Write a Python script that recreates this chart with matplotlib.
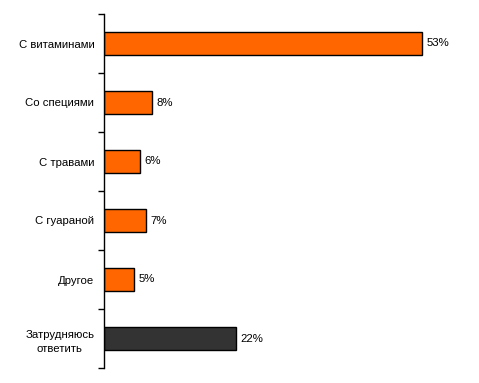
import matplotlib
matplotlib.use("Agg")
import matplotlib.pyplot as plt
import numpy as np

categories = ["С витаминами", "Со специями", "С травами", "С гуараной", "Другое", "Затрудняюсь\nответить"]
values = [53, 8, 6, 7, 5, 22]
colors = ["#FF6600", "#FF6600", "#FF6600", "#FF6600", "#FF6600", "#333333"]

plt.rcParams["font.family"] = ["Liberation Sans", "DejaVu Sans"]

fig = plt.figure(figsize=(4.79, 3.83), dpi=100)
ax = fig.add_axes([104 / 479, 1 - 368 / 383, 360 / 479, 354 / 383])

y = np.arange(len(categories))
ax.barh(y, values, height=0.39, color=colors, edgecolor="black", linewidth=1)
for yi, v in zip(y, values):
    ax.text(v + 0.8, yi, f"{v}%", va="center", ha="left", fontsize=8.2)

ax.set_ylim(len(categories) - 0.5, -0.5)
ax.set_xlim(0, 60)
ax.set_yticks(y)
ax.set_yticklabels(categories, fontsize=8.2, multialignment="center", linespacing=1.5)
ax.set_yticks(np.arange(len(categories) + 1) - 0.5, minor=True)
ax.tick_params(axis="y", which="major", length=0, pad=7)
ax.tick_params(axis="y", which="minor", length=4, width=1, direction="out")
ax.set_xticks([])
for s in ["top", "right", "bottom"]:
    ax.spines[s].set_visible(False)
ax.spines["left"].set_linewidth(1)

fig.savefig("out.png", dpi=100)
